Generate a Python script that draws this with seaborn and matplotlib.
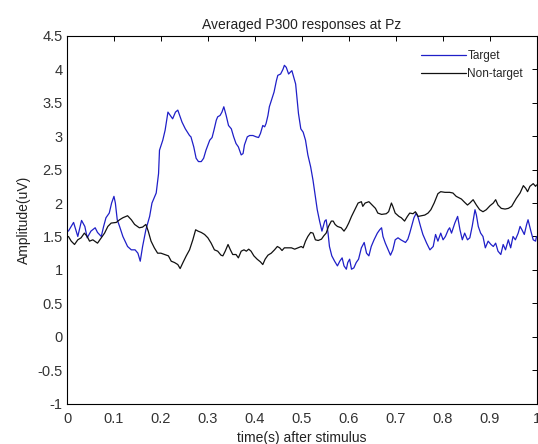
import matplotlib
matplotlib.use("Agg")
import matplotlib.pyplot as plt
import seaborn as sns
import pandas as pd

# Averaged ERP traces at electrode Pz (time in s after stimulus, amplitude in uV)
target_time = [
    0.003, 0.014, 0.023, 0.031, 0.038, 0.043, 0.051, 0.060, 0.065, 0.073,
    0.078, 0.083, 0.090, 0.095, 0.100, 0.103, 0.107, 0.112, 0.119, 0.129,
    0.137, 0.145, 0.151, 0.156, 0.161, 0.168, 0.176, 0.181, 0.190, 0.195,
    0.197, 0.204, 0.209, 0.215, 0.220, 0.225, 0.231, 0.236, 0.240, 0.245,
    0.252, 0.261, 0.264, 0.270, 0.275, 0.280, 0.286, 0.291, 0.296, 0.304,
    0.309, 0.313, 0.318, 0.321, 0.326,
    0.330, 0.334, 0.339, 0.344, 0.350, 0.355, 0.360, 0.365, 0.371, 0.375,
    0.378, 0.384, 0.389, 0.396, 0.403, 0.408, 0.412, 0.417, 0.421, 0.424,
    0.428, 0.431, 0.435, 0.441, 0.446, 0.449, 0.455, 0.460, 0.463, 0.467,
    0.472, 0.476, 0.479, 0.483, 0.487, 0.490, 0.493, 0.498, 0.503, 0.508,
    0.513, 0.519, 0.524, 0.529, 0.533, 0.538, 0.543, 0.549, 0.552, 0.556,
    0.559, 0.564, 0.570, 0.576, 0.581, 0.586, 0.590, 0.595, 0.598, 0.602,
    0.606, 0.611, 0.616, 0.621, 0.627,
    0.633, 0.638, 0.643, 0.648, 0.654, 0.661, 0.666, 0.670, 0.673, 0.678,
    0.684, 0.689, 0.694, 0.699, 0.705, 0.711, 0.716, 0.721, 0.726, 0.730,
    0.734, 0.739, 0.744, 0.748, 0.753, 0.758, 0.766, 0.773, 0.780, 0.785,
    0.790, 0.796, 0.801, 0.806, 0.812, 0.815, 0.819, 0.826, 0.832, 0.837,
    0.842, 0.847, 0.853, 0.858, 0.863, 0.869, 0.872, 0.876, 0.881, 0.886,
    0.891, 0.897, 0.903, 0.908, 0.913, 0.918, 0.924, 0.929, 0.934, 0.940,
    0.945, 0.950, 0.955, 0.961, 0.965, 0.969, 0.974, 0.979, 0.982, 0.988,
    0.993, 0.998, 1.000,
]
target_amp = [
    1.58, 1.71, 1.50, 1.74, 1.65, 1.48, 1.58, 1.63, 1.56, 1.50,
    1.65, 1.78, 1.85, 2.00, 2.10, 2.00, 1.75, 1.65, 1.50, 1.35,
    1.30, 1.30, 1.25, 1.13, 1.35, 1.60, 1.80, 2.00, 2.15, 2.44,
    2.79, 2.94, 3.09, 3.36, 3.31, 3.26, 3.36, 3.39, 3.31, 3.21,
    3.11, 3.01, 2.99, 2.84, 2.67, 2.62, 2.62, 2.67, 2.79, 2.94,
    2.98, 3.09, 3.24, 3.29, 3.31,
    3.36, 3.44, 3.31, 3.16, 3.11, 2.99, 2.89, 2.84, 2.72, 2.74,
    2.87, 2.99, 3.01, 3.01, 2.99, 2.98, 3.04, 3.16, 3.14, 3.19,
    3.31, 3.44, 3.53, 3.66, 3.83, 3.91, 3.93, 4.00, 4.06, 4.03,
    3.93, 3.96, 3.98, 3.88, 3.78, 3.56, 3.34, 3.11, 3.06, 2.94,
    2.72, 2.54, 2.34, 2.10, 1.90, 1.73, 1.58, 1.73, 1.75, 1.55,
    1.35, 1.21, 1.13, 1.06, 1.13, 1.18, 1.06, 1.01, 1.11, 1.16,
    1.01, 1.03, 1.11, 1.16, 1.33,
    1.41, 1.25, 1.21, 1.35, 1.45, 1.55, 1.60, 1.63, 1.50, 1.40,
    1.30, 1.22, 1.30, 1.45, 1.48, 1.45, 1.43, 1.41, 1.46, 1.55,
    1.65, 1.78, 1.85, 1.78, 1.65, 1.53, 1.40, 1.30, 1.35, 1.53,
    1.43, 1.55, 1.45, 1.50, 1.60, 1.63, 1.55, 1.70, 1.80, 1.60,
    1.45, 1.55, 1.45, 1.48, 1.65, 1.90, 1.82, 1.65, 1.55, 1.50,
    1.33, 1.43, 1.38, 1.35, 1.40, 1.28, 1.23, 1.38, 1.30, 1.45,
    1.33, 1.50, 1.45, 1.55, 1.65, 1.60, 1.53, 1.68, 1.75, 1.58,
    1.45, 1.43, 1.50,
]

nontarget_time = [
    0.003, 0.009, 0.016, 0.023, 0.030, 0.037, 0.043, 0.048, 0.055, 0.065,
    0.073, 0.080, 0.087, 0.094, 0.105, 0.112, 0.119, 0.129, 0.137, 0.144,
    0.154, 0.161, 0.168, 0.173, 0.179, 0.186, 0.193, 0.200, 0.208, 0.216,
    0.222, 0.229, 0.236, 0.241, 0.247, 0.254, 0.261, 0.268, 0.274, 0.279,
    0.286, 0.293, 0.300, 0.307, 0.314, 0.321, 0.328,
    0.332, 0.337, 0.343, 0.348, 0.353, 0.360, 0.365, 0.371, 0.377, 0.382,
    0.387, 0.392, 0.398, 0.405, 0.412, 0.417, 0.422, 0.428, 0.435, 0.442,
    0.448, 0.453, 0.458, 0.463, 0.471, 0.478, 0.485, 0.492, 0.499, 0.503,
    0.508, 0.513, 0.519, 0.524, 0.529, 0.535, 0.542, 0.547, 0.552, 0.557,
    0.563, 0.567, 0.571, 0.576, 0.584, 0.590, 0.595, 0.600, 0.606, 0.613,
    0.620, 0.627,
    0.630, 0.635, 0.643, 0.650, 0.657, 0.662, 0.670, 0.680, 0.685, 0.691,
    0.694, 0.699, 0.707, 0.712, 0.719, 0.725, 0.730, 0.737, 0.742, 0.748,
    0.755, 0.762, 0.769, 0.775, 0.782, 0.790, 0.796, 0.805, 0.815, 0.822,
    0.829, 0.840, 0.847, 0.853, 0.858, 0.865, 0.872, 0.879, 0.886, 0.893,
    0.901, 0.908, 0.913, 0.918, 0.925, 0.933, 0.940, 0.947, 0.952, 0.957,
    0.965, 0.972, 0.977, 0.981, 0.986, 0.993, 0.998, 1.000,
]
nontarget_amp = [
    1.50, 1.43, 1.38, 1.45, 1.48, 1.55, 1.50, 1.43, 1.45, 1.40,
    1.48, 1.55, 1.65, 1.70, 1.71, 1.75, 1.78, 1.81, 1.75, 1.68,
    1.63, 1.64, 1.68, 1.58, 1.43, 1.33, 1.25, 1.25, 1.23, 1.21,
    1.13, 1.11, 1.08, 1.02, 1.11, 1.21, 1.30, 1.45, 1.60, 1.58,
    1.56, 1.53, 1.48, 1.40, 1.30, 1.28, 1.22,
    1.21, 1.28, 1.38, 1.30, 1.23, 1.23, 1.18, 1.28, 1.30, 1.28,
    1.31, 1.28, 1.21, 1.16, 1.12, 1.08, 1.16, 1.22, 1.25, 1.30,
    1.35, 1.33, 1.29, 1.33, 1.33, 1.33, 1.31, 1.33, 1.35, 1.33,
    1.43, 1.50, 1.56, 1.55, 1.45, 1.44, 1.46, 1.51, 1.55, 1.65,
    1.73, 1.73, 1.68, 1.65, 1.63, 1.58, 1.63, 1.70, 1.80, 1.90,
    2.00, 2.02,
    1.95, 2.00, 2.02, 1.97, 1.92, 1.85, 1.83, 1.84, 1.87, 2.00,
    1.95, 1.85, 1.80, 1.78, 1.73, 1.80, 1.85, 1.84, 1.87, 1.80,
    1.81, 1.82, 1.85, 1.90, 2.00, 2.14, 2.17, 2.16, 2.16, 2.15,
    2.10, 2.06, 2.01, 1.97, 2.00, 2.05, 1.97, 1.90, 1.87, 1.90,
    1.96, 2.00, 2.05, 1.97, 1.92, 1.91, 1.92, 1.95, 2.01, 2.07,
    2.15, 2.26, 2.22, 2.17, 2.25, 2.29, 2.25, 2.27,
]

series_names = ["Target", "Non-target"]
series_colors = ["#1f1fc8", "#111111"]

x_ticks = [0, 0.1, 0.2, 0.3, 0.4, 0.5, 0.6, 0.7, 0.8, 0.9, 1]
x_tick_labels = ["0", "0.1", "0.2", "0.3", "0.4", "0.5", "0.6", "0.7", "0.8", "0.9", "1"]
y_ticks = [-1, -0.5, 0, 0.5, 1, 1.5, 2, 2.5, 3, 3.5, 4, 4.5]
y_tick_labels = ["-1", "-0.5", "0", "0.5", "1", "1.5", "2", "2.5", "3", "3.5", "4", "4.5"]

sns.set_theme(style="white")
plt.rcParams["font.family"] = ["Liberation Sans", "DejaVu Sans"]

df = pd.concat([
    pd.DataFrame({"time": target_time, "amp": target_amp, "cond": series_names[0]}),
    pd.DataFrame({"time": nontarget_time, "amp": nontarget_amp, "cond": series_names[1]}),
], ignore_index=True)

fig = plt.figure(figsize=(5.38, 4.44), dpi=100)
ax = fig.add_axes([67 / 538, 1 - 403.6 / 444, 469.5 / 538, 367.7 / 444])

sns.lineplot(
    data=df, x="time", y="amp", hue="cond", hue_order=series_names,
    palette=dict(zip(series_names, series_colors)),
    estimator=None, sort=False, linewidth=0.9, ax=ax,
)

ax.set_xlim(0, 1)
ax.set_ylim(-1, 4.5)
ax.set_xticks(x_ticks)
ax.set_xticklabels(x_tick_labels)
ax.set_yticks(y_ticks)
ax.set_yticklabels(y_tick_labels)

for side in ["top", "right", "bottom", "left"]:
    ax.spines[side].set_visible(True)
    ax.spines[side].set_color("black")
    ax.spines[side].set_linewidth(0.8)

ax.tick_params(axis="both", which="both", direction="in", length=3.8,
               width=0.7, color="black", top=True, right=True,
               labelsize=10.5, labelcolor="#333333")
ax.tick_params(axis="x", pad=6.3)
ax.tick_params(axis="y", pad=3)

ax.set_title("Averaged P300 responses at Pz", fontsize=10, color="#222222", pad=5)
ax.set_xlabel("time(s) after stimulus", fontsize=10, color="#222222", labelpad=3)
ax.set_ylabel("Amplitude(uV)", fontsize=10, color="#222222", labelpad=5)

handles, labels = ax.get_legend_handles_labels()
ax.legend(handles, labels, loc="upper left", bbox_to_anchor=(0.753, 0.962),
          frameon=False, fontsize=8.5, handlelength=3.85, handletextpad=0.12,
          labelspacing=0.56, borderpad=0, borderaxespad=0)

fig.savefig("out.png", dpi=100)
